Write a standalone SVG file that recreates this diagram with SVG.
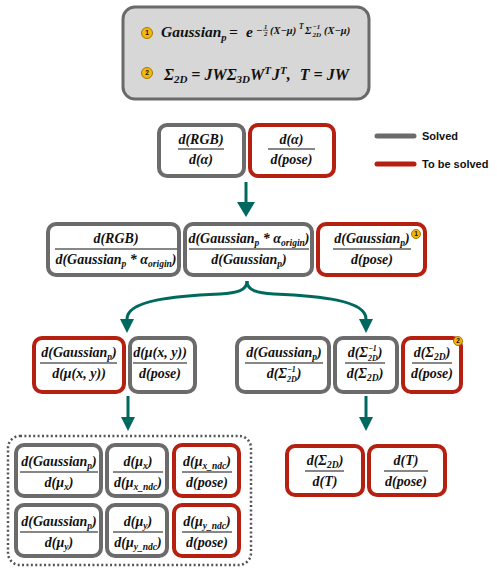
<svg xmlns="http://www.w3.org/2000/svg" width="497" height="572" viewBox="0 0 497 572">
<defs>
<style>
.g{fill:#fff;stroke:#6b6b6b;stroke-width:4}
.r{fill:#fff;stroke:#b52010;stroke-width:4}
.m{font-family:"Liberation Serif","Times New Roman",serif;font-weight:bold;font-style:italic;font-size:14px;fill:#111;text-anchor:middle}
.e{font-family:"Liberation Serif","Times New Roman",serif;font-weight:bold;font-style:italic;fill:#111}
.sb{font-size:9.5px}
.ss{font-size:8px}
.fl{stroke:#111;stroke-width:1.2}
.bd{fill:#f5b50a;stroke:#9a7000;stroke-width:0.9}
.bt{font-family:"Liberation Sans",Arial,sans-serif;font-weight:bold;font-size:6.5px;fill:#111;text-anchor:middle}
.lg{font-family:"Liberation Sans",Arial,sans-serif;font-weight:bold;font-size:11px;fill:#111}
.c{fill:none;stroke:#00695f;stroke-width:3}
</style>
<marker id="ah" markerUnits="userSpaceOnUse" markerWidth="15" markerHeight="18" viewBox="0 0 15 18" refX="0" refY="9" orient="auto"><path d="M0,0 L15,9 L0,18 z" fill="#00695f"/></marker>
<marker id="ah2" markerUnits="userSpaceOnUse" markerWidth="14" markerHeight="14" viewBox="0 0 14 14" refX="0" refY="7" orient="auto"><path d="M0,0 L14,7 L0,14 z" fill="#00695f"/></marker>
</defs>

<g id="formula-box">
<rect x="123" y="7" width="246" height="92" rx="12" fill="#d7d7d7" stroke="#6a6a6a" stroke-width="3"/>
<circle class="bd" cx="147" cy="33" r="5.5"/><text class="bt" x="147" y="35.3">1</text>
<text class="e" x="161" y="37" font-size="15.5">Gaussian<tspan font-size="10.5" dy="4">p</tspan><tspan x="229" dy="-4">=</tspan><tspan x="246">e</tspan></text>
<text class="e" x="256" y="33.5" font-size="10.5">−</text>
<text class="e" x="265.5" y="28.5" font-size="6.5" text-anchor="middle">1</text>
<line x1="263" y1="30.3" x2="268" y2="30.3" stroke="#111" stroke-width="0.6"/>
<text class="e" x="265.5" y="36" font-size="6.5" text-anchor="middle">2</text>
<text class="e" x="270" y="33.5" font-size="10.5">(X−μ)</text>
<text class="e" x="299" y="29" font-size="7.5">T</text>
<text class="e" x="305" y="33.5" font-size="10.5">Σ</text>
<text class="e" x="312.5" y="28.5" font-size="7">−1</text>
<text class="e" x="312.5" y="36.5" font-size="7">2D</text>
<text class="e" x="324" y="33.5" font-size="10.5">(X−μ)</text>
<circle class="bd" cx="147" cy="73" r="5.5"/><text class="bt" x="147" y="75.3">2</text>
<text class="e" x="164" y="80" font-size="16">Σ<tspan font-size="11" dy="3">2D</tspan><tspan dy="-3"> = JWΣ</tspan><tspan font-size="11" dy="3">3D</tspan><tspan dy="-3">W</tspan><tspan font-size="11" dy="-6">T</tspan><tspan dy="6" dx="1">J</tspan><tspan font-size="11" dy="-6">T</tspan><tspan dy="6">,</tspan><tspan dx="9">T = JW</tspan></text>
</g>

<g id="legend">
<line x1="377" y1="136" x2="414" y2="136" stroke="#6b6b6b" stroke-width="5" stroke-linecap="round"/>
<text class="lg" x="422" y="140">Solved</text>
<line x1="377" y1="164" x2="414" y2="164" stroke="#b52010" stroke-width="5" stroke-linecap="round"/>
<text class="lg" x="422" y="168">To be solved</text>
</g>

<g id="connectors">
<path class="c" d="M246,182 V202" marker-end="url(#ah)"/>
<path class="c" d="M247,281 C247,291 236,293 220,294 C175,296 127,300 127,319" marker-end="url(#ah2)"/>
<path class="c" d="M247,281 C247,291 258,293 274,294 C319,296 366,300 366,319" marker-end="url(#ah2)"/>
<path class="c" d="M128,396 V417" marker-end="url(#ah2)"/>
<path class="c" d="M366,396 V417" marker-end="url(#ah2)"/>
</g>

<g id="n-rgb-alpha">
<rect class="g" x="159" y="125" width="85" height="51" rx="8"/>
<text class="m" x="201" y="144">d(RGB)</text>
<line class="fl" x1="178" y1="149" x2="224" y2="149"/>
<text class="m" x="201" y="164">d(α)</text>
</g>
<g id="n-alpha-pose">
<rect class="r" x="250" y="125" width="84" height="51" rx="8"/>
<text class="m" x="291.5" y="144">d(α)</text>
<line class="fl" x1="268" y1="149" x2="315" y2="149"/>
<text class="m" x="291.5" y="164">d(pose)</text>
</g>

<g id="n-rgb-galpha">
<rect class="g" x="48" y="224" width="131" height="51" rx="8"/>
<text class="m" x="116" y="243">d(RGB)</text>
<line class="fl" x1="55" y1="249" x2="177" y2="249"/>
<text class="m" x="116" y="264">d(Gaussian<tspan class="sb" dy="3">p</tspan><tspan dy="-3"> * α</tspan><tspan class="sb" dy="3">origin</tspan><tspan dy="-3">)</tspan></text>
</g>
<g id="n-galpha-g">
<rect class="g" x="185" y="224" width="127" height="51" rx="8"/>
<text class="m" x="249" y="243">d(Gaussian<tspan class="sb" dy="3">p</tspan><tspan dy="-3"> * α</tspan><tspan class="sb" dy="3">origin</tspan><tspan dy="-3">)</tspan></text>
<line class="fl" x1="189" y1="249" x2="309" y2="249"/>
<text class="m" x="249" y="264">d(Gaussian<tspan class="sb" dy="3">p</tspan><tspan dy="-3">)</tspan></text>
</g>
<g id="n-g-pose">
<rect class="r" x="318" y="224" width="107" height="51" rx="8"/>
<text class="m" x="372" y="243">d(Gaussian<tspan class="sb" dy="3">p</tspan><tspan dy="-3">)</tspan></text>
<circle class="bd" cx="416" cy="234" r="4.5"/><text class="bt" x="416" y="236" font-size="5.5">1</text>
<line class="fl" x1="333" y1="249" x2="411" y2="249"/>
<text class="m" x="372" y="264">d(pose)</text>
</g>

<g id="n-g-mu">
<rect class="r" x="34" y="338" width="90" height="54" rx="8"/>
<text class="m" x="79" y="357">d(Gaussian<tspan class="sb" dy="3">p</tspan><tspan dy="-3">)</tspan></text>
<line class="fl" x1="40" y1="363" x2="117" y2="363"/>
<text class="m" x="79" y="378">d(μ(x, y))</text>
</g>
<g id="n-mu-pose">
<rect class="g" x="130" y="338" width="65" height="54" rx="8"/>
<text class="m" x="160" y="357">d(μ(x, y))</text>
<line class="fl" x1="133" y1="363" x2="187" y2="363"/>
<text class="m" x="160" y="378">d(pose)</text>
</g>
<g id="n-g-sigmainv">
<rect class="g" x="237" y="338" width="92" height="54" rx="8"/>
<text class="m" x="284" y="357">d(Gaussian<tspan class="sb" dy="3">p</tspan><tspan dy="-3">)</tspan></text>
<line class="fl" x1="245" y1="363" x2="323" y2="363"/>
<text class="m" x="284" y="378">d(Σ<tspan class="ss" dy="-6">−1</tspan><tspan class="ss" dx="-9" dy="10">2D</tspan><tspan dy="-4">)</tspan></text>
</g>
<g id="n-sigmainv-sigma">
<rect class="g" x="335" y="338" width="62" height="54" rx="8"/>
<text class="m" x="365" y="357">d(Σ<tspan class="ss" dy="-6">−1</tspan><tspan class="ss" dx="-9" dy="10">2D</tspan><tspan dy="-4">)</tspan></text>
<line class="fl" x1="345" y1="363" x2="385" y2="363"/>
<text class="m" x="365" y="378">d(Σ<tspan class="sb" dy="3">2D</tspan><tspan dy="-3">)</tspan></text>
</g>
<g id="n-sigma-pose">
<rect class="r" x="403" y="338" width="58" height="54" rx="8"/>
<text class="m" x="432" y="357">d(Σ<tspan class="sb" dy="3">2D</tspan><tspan dy="-3">)</tspan></text>
<circle class="bd" cx="458" cy="341" r="4.5"/><text class="bt" x="458" y="343" font-size="5.5">2</text>
<line class="fl" x1="412" y1="363" x2="452" y2="363"/>
<text class="m" x="432" y="378">d(pose)</text>
</g>

<g id="mu-group">
<rect x="8" y="436" width="243" height="129" rx="12" fill="none" stroke="#555" stroke-width="2.5" stroke-dasharray="2 2.4"/>
</g>
<g id="n-g-mux">
<rect class="g" x="16" y="445" width="85" height="51" rx="8"/>
<text class="m" x="59" y="466">d(Gaussian<tspan class="sb" dy="3">p</tspan><tspan dy="-3">)</tspan></text>
<line class="fl" x1="20" y1="472" x2="98" y2="472"/>
<text class="m" x="59" y="487">d(μ<tspan class="sb" dy="3">x</tspan><tspan dy="-3">)</tspan></text>
</g>
<g id="n-mux-ndc">
<rect class="g" x="107" y="445" width="60" height="51" rx="8"/>
<text class="m" x="138" y="466">d(μ<tspan class="sb" dy="3">x</tspan><tspan dy="-3">)</tspan></text>
<line class="fl" x1="113" y1="472" x2="163" y2="472"/>
<text class="m" x="138" y="487">d(μ<tspan class="sb" dy="3">x_ndc</tspan><tspan dy="-3">)</tspan></text>
</g>
<g id="n-muxndc-pose">
<rect class="r" x="174" y="445" width="65" height="51" rx="8"/>
<text class="m" x="207" y="466">d(μ<tspan class="sb" dy="3">x_ndc</tspan><tspan dy="-3">)</tspan></text>
<line class="fl" x1="182" y1="472" x2="232" y2="472"/>
<text class="m" x="207" y="487">d(pose)</text>
</g>
<g id="n-g-muy">
<rect class="g" x="16" y="505" width="85" height="51" rx="8"/>
<text class="m" x="59" y="526">d(Gaussian<tspan class="sb" dy="3">p</tspan><tspan dy="-3">)</tspan></text>
<line class="fl" x1="20" y1="532" x2="98" y2="532"/>
<text class="m" x="59" y="547">d(μ<tspan class="sb" dy="3">y</tspan><tspan dy="-3">)</tspan></text>
</g>
<g id="n-muy-ndc">
<rect class="g" x="107" y="505" width="60" height="51" rx="8"/>
<text class="m" x="138" y="526">d(μ<tspan class="sb" dy="3">y</tspan><tspan dy="-3">)</tspan></text>
<line class="fl" x1="113" y1="532" x2="163" y2="532"/>
<text class="m" x="138" y="547">d(μ<tspan class="sb" dy="3">y_ndc</tspan><tspan dy="-3">)</tspan></text>
</g>
<g id="n-muyndc-pose">
<rect class="r" x="174" y="505" width="65" height="51" rx="8"/>
<text class="m" x="207" y="526">d(μ<tspan class="sb" dy="3">y_ndc</tspan><tspan dy="-3">)</tspan></text>
<line class="fl" x1="182" y1="532" x2="232" y2="532"/>
<text class="m" x="207" y="547">d(pose)</text>
</g>

<g id="n-sigma-t">
<rect class="r" x="287" y="446" width="76" height="49" rx="8"/>
<text class="m" x="325" y="465">d(Σ<tspan class="sb" dy="3">2D</tspan><tspan dy="-3">)</tspan></text>
<line class="fl" x1="305" y1="471" x2="344" y2="471"/>
<text class="m" x="325" y="486">d(T)</text>
</g>
<g id="n-t-pose">
<rect class="r" x="369" y="446" width="76" height="49" rx="8"/>
<text class="m" x="406" y="465">d(T)</text>
<line class="fl" x1="384" y1="471" x2="428" y2="471"/>
<text class="m" x="406" y="486">d(pose)</text>
</g>
</svg>
